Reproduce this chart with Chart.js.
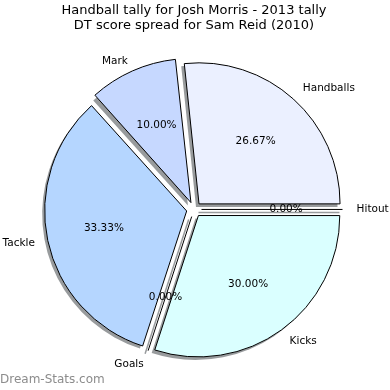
<!DOCTYPE html>
<html>
<head>
<meta charset="utf-8">
<script src="https://cdn.jsdelivr.net/npm/chart.js@4/dist/chart.umd.min.js"></script>
<style>
  html, body { margin: 0; padding: 0; background: #fff; }
  #wrap { width: 390px; height: 390px; position: relative; }
</style>
</head>
<body>
<div id="wrap"><canvas id="pie"></canvas></div>
<script>
// slices, clockwise starting from the right (3 o'clock)
const categories = ["Hitout", "Kicks", "Goals", "Tackle", "Mark", "Handballs"];
const counts = [0, 9, 0, 10, 3, 8];
const colors = ["#e6f0ff", "#daffff", "#cce6ff", "#b5d6ff", "#c6d8ff", "#ebf0ff"];
const titleLines = ["Handball tally for Josh Morris - 2013 tally", "DT score spread for Sam Reid (2010)"];

const FONT = "DejaVu Sans";
const total = counts.reduce((a, b) => a + b, 0);

function explodedCenter(arc, angle) {
  const off = (arc.options.offset || 0) / 4;
  return [arc.x + Math.cos(angle) * off, arc.y + Math.sin(angle) * off];
}

// shadows, zero slices, labels, percentages, watermark
const pieText = {
  id: "pieText",
  beforeDatasetsDraw(chart) {
    const ctx = chart.ctx;
    const meta = chart.getDatasetMeta(0);
    ctx.save();
    ctx.translate(-3, 3);
    ctx.fillStyle = "rgba(50,55,60,0.5)";
    ctx.strokeStyle = "rgba(50,55,60,0.5)";
    meta.data.forEach((arc, i) => {
      const mid = (arc.startAngle + arc.endAngle) / 2;
      const [cx, cy] = explodedCenter(arc, mid);
      ctx.beginPath();
      if (counts[i] === 0) {
        ctx.moveTo(cx, cy);
        ctx.lineTo(cx + Math.cos(mid) * arc.outerRadius, cy + Math.sin(mid) * arc.outerRadius);
        ctx.lineWidth = 1.5;
        ctx.stroke();
      } else {
        ctx.moveTo(cx, cy);
        ctx.arc(cx, cy, arc.outerRadius + 0.5, arc.startAngle, arc.endAngle);
        ctx.closePath();
        ctx.fill();
      }
    });
    ctx.restore();
  },
  afterDatasetsDraw(chart) {
    const ctx = chart.ctx;
    const meta = chart.getDatasetMeta(0);
    ctx.save();
    // zero-value slices are drawn as a single edge line
    meta.data.forEach((arc, i) => {
      if (counts[i] !== 0) return;
      const a = arc.startAngle;
      const [cx, cy] = explodedCenter(arc, a);
      ctx.beginPath();
      ctx.moveTo(cx, cy);
      ctx.lineTo(cx + Math.cos(a) * arc.outerRadius, cy + Math.sin(a) * arc.outerRadius);
      ctx.strokeStyle = "#000";
      ctx.lineWidth = 1;
      ctx.stroke();
    });

    ctx.fillStyle = "#000";
    ctx.font = "10.5px '" + FONT + "'";
    ctx.textBaseline = "middle";
    meta.data.forEach((arc, i) => {
      const mid = (arc.startAngle + arc.endAngle) / 2;
      const [cx, cy] = explodedCenter(arc, mid);
      const r = arc.outerRadius;
      const lx = cx + Math.cos(mid) * r * 1.1, ly = cy + Math.sin(mid) * r * 1.1;
      ctx.textAlign = Math.cos(mid) >= 0 ? "left" : "right";
      ctx.fillText(categories[i], lx, ly);
      ctx.textAlign = "center";
      const pct = (counts[i] / total * 100).toFixed(2) + "%";
      ctx.fillText(pct, cx + Math.cos(mid) * r * 0.6, cy + Math.sin(mid) * r * 0.6);
    });
    ctx.font = "12px '" + FONT + "'";
    ctx.fillStyle = "#8c8c8c";
    ctx.textAlign = "left";
    ctx.fillText("Dream-Stats.com", 0, 380);
    ctx.restore();
  }
};

new Chart(document.getElementById("pie"), {
  type: "pie",
  data: {
    labels: categories,
    datasets: [{
      data: counts,
      backgroundColor: colors,
      borderColor: "#000",
      borderWidth: 1,
      offset: 30,
      hoverOffset: 0,
      radius: 141
    }]
  },
  options: {
    responsive: true,
    maintainAspectRatio: false,
    animation: false,
    rotation: 90,
    layout: { padding: { left: 0, right: 2, top: 0, bottom: 4 } },
    plugins: {
      legend: { display: false },
      tooltip: { enabled: false },
      title: {
        display: true,
        text: titleLines,
        color: "#000",
        font: { family: FONT, size: 13, weight: "normal", lineHeight: 1.15 },
        padding: { top: 3, bottom: 0 }
      }
    }
  },
  plugins: [pieText]
});
</script>
</body>
</html>
